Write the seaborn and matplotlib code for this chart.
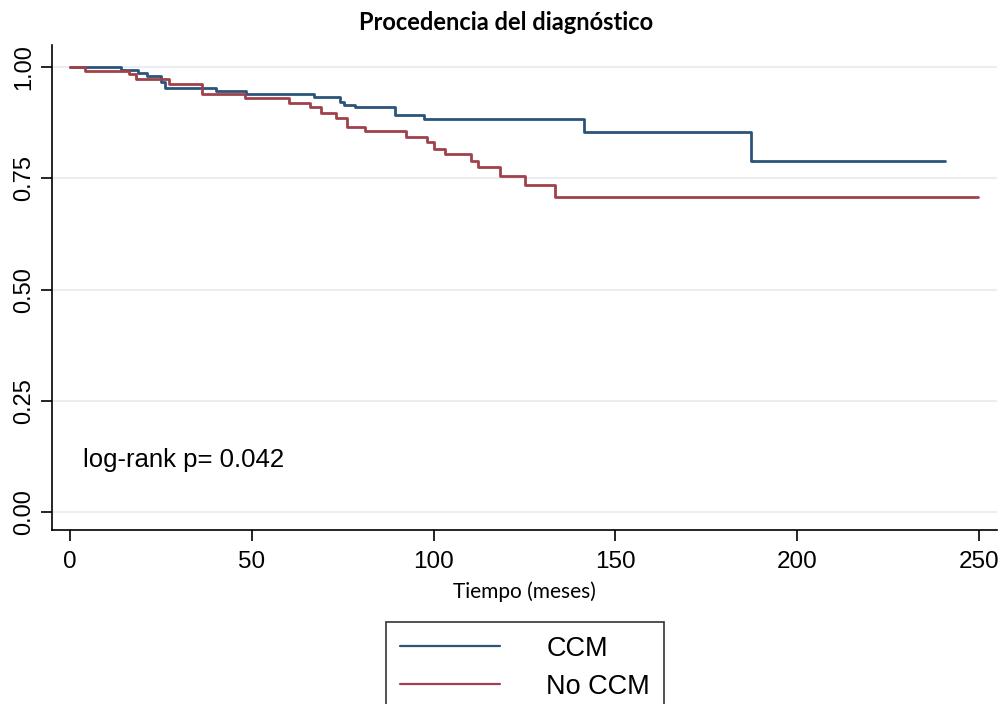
import numpy as np
import pandas as pd
import matplotlib
matplotlib.use("Agg")
import matplotlib.pyplot as plt
import seaborn as sns

# ---- data ----
ccm_time = [0, 14, 18.7, 21, 25, 26.2, 40, 48.4, 67, 74.3, 75.3, 78.3, 89.3, 97.4, 141.3, 187.4, 240.7]
ccm_surv = [1.0, 0.993, 0.986, 0.98, 0.967, 0.954, 0.947, 0.941, 0.933, 0.922, 0.916, 0.91, 0.892, 0.883, 0.855, 0.789, 0.789]

noccm_time = [0, 4.1, 16.1, 18.2, 27.1, 36.3, 48.2, 60.2, 66.1, 69.1, 73.2, 76.1, 81.2, 92.3, 98.1, 100.1,
              103.2, 110.3, 112.1, 118.2, 125.1, 133.4, 249.7]
noccm_surv = [1.0, 0.991, 0.984, 0.974, 0.963, 0.94, 0.93, 0.92, 0.91, 0.898, 0.885, 0.866, 0.856, 0.843, 0.832,
              0.817, 0.805, 0.789, 0.775, 0.755, 0.735, 0.709, 0.709]

groups = ["CCM", "No CCM"]
colors = ["#2a5479", "#a0414b"]
x_ticks = [0, 50, 100, 150, 200, 250]
y_ticks = [0.0, 0.25, 0.5, 0.75, 1.0]
y_ticklabels = ["0.00", "0.25", "0.50", "0.75", "1.00"]
title = "Procedencia del diagnóstico"
xlabel = "Tiempo (meses)"
annot = "log-rank p= 0.042"

df = pd.concat([
    pd.DataFrame({"t": ccm_time, "s": ccm_surv, "g": groups[0]}),
    pd.DataFrame({"t": noccm_time, "s": noccm_surv, "g": groups[1]}),
])

sns.set_theme(style="white")
plt.rcParams["font.family"] = ["Liberation Sans", "DejaVu Sans"]
plt.rcParams["text.color"] = "black"
plt.rcParams["xtick.color"] = "black"
plt.rcParams["ytick.color"] = "black"
plt.rcParams["axes.labelcolor"] = "black"

fig = plt.figure(figsize=(10.03, 7.04), dpi=100)
ax = fig.add_axes([52 / 1003, 1 - 530 / 704, (997 - 52) / 1003, (530 - 45) / 704])

sns.lineplot(data=df, x="t", y="s", hue="g", palette=dict(zip(groups, colors)),
             drawstyle="steps-post", linewidth=2, ax=ax, legend=False, estimator=None)

ax.set_xlim(-5, 255)
ax.set_ylim(-0.04, 1.05)
ax.set_xticks(x_ticks)
ax.set_yticks(y_ticks)
ax.set_yticklabels(y_ticklabels, rotation=90, va="center")
ax.tick_params(axis="x", labelsize=17.5, length=8, width=1.2, color="black", direction="out", pad=7, bottom=True)
ax.tick_params(axis="y", labelsize=17, length=8, width=1.2, color="black", direction="out", pad=4, left=True)
for yv in y_ticks:
    ax.axhline(yv, color="#eaeef1", lw=1.5, zorder=0)
for s in ["top", "right"]:
    ax.spines[s].set_visible(False)
for s in ["left", "bottom"]:
    ax.spines[s].set_color("black")
    ax.spines[s].set_linewidth(1.2)

ax.set_xlabel(xlabel, fontsize=15, family=["Lato", "DejaVu Sans"], labelpad=6)
ax.set_ylabel("")
ax.text(3.5, 0.117, annot, fontsize=18.5, va="center", ha="left")

fig.text(506 / 1003, 1 - 22 / 704, title, fontsize=17, fontweight="bold",
         family=["Lato", "DejaVu Sans"], ha="center", va="center")

handles = [plt.Line2D([], [], color=c, lw=1.6) for c in colors]
leg = fig.legend(handles, groups, loc="upper center", bbox_to_anchor=(525 / 1003, 1 - 622 / 704),
                 fontsize=19.5, frameon=True, fancybox=False, handlelength=3.7, handletextpad=1.7,
                 borderpad=0.5, labelspacing=0.45, borderaxespad=0)
leg.get_frame().set_edgecolor("black")
leg.get_frame().set_linewidth(1.2)
for t in leg.get_texts():
    t.set_color("black")

fig.savefig("out.png", dpi=100)
